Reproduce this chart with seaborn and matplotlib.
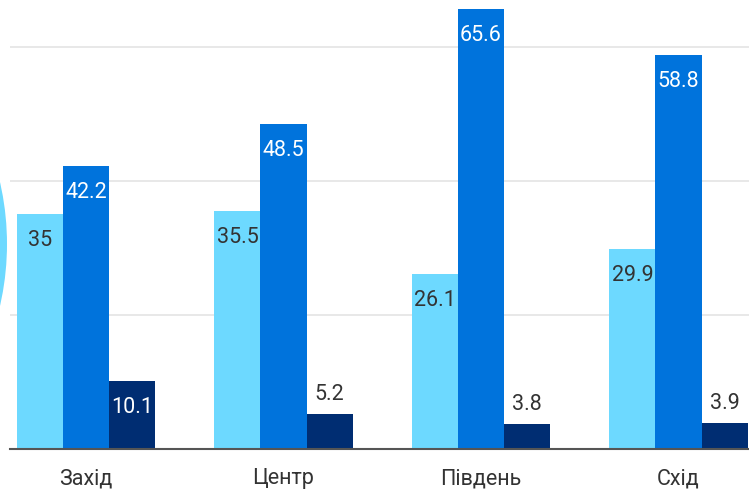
import pandas as pd
import matplotlib.pyplot as plt
from matplotlib.patches import Circle
import seaborn as sns

# ── data ────────────────────────────────────────────────────────────────
regions = ["Захід", "Центр", "Південь", "Схід"]
series = ["s1", "s2", "s3"]
vals_s1 = [35, 35.5, 26.1, 29.9]
vals_s2 = [42.2, 48.5, 65.6, 58.8]
vals_s3 = [10.1, 5.2, 3.8, 3.9]

colors = ["#6dd9ff", "#0073dc", "#002d72"]
text_colors = ["#333333", "#ffffff", "#ffffff"]

df = pd.DataFrame({
    "region": regions * 3,
    "series": [s for s in series for _ in regions],
    "value": vals_s1 + vals_s2 + vals_s3,
})


def main():
    sns.set_style("white")
    plt.rcParams["font.family"] = ["Roboto", "DejaVu Sans"]

    fig = plt.figure(figsize=(7.49, 4.92), dpi=100)
    ax = fig.add_axes([10 / 749, 43 / 492, 1 - 10 / 749, 1 - 43 / 492])

    sns.barplot(
        data=df, x="region", y="value", hue="series",
        palette=colors, width=0.7, gap=0, errorbar=None,
        saturation=1, legend=False, linewidth=0, ax=ax,
    )

    # ── labels on bars ───────────────────────────────────────────────────
    for i, cont in enumerate(ax.containers):
        for patch in cont.patches:
            h = patch.get_height()
            x = patch.get_x() + patch.get_width() / 2
            if h > 8:
                ax.annotate(f"{h:g}", (x, h), xytext=(0, -19),
                            textcoords="offset points", ha="center",
                            va="center", fontsize=15.5, color=text_colors[i])
            else:
                ax.annotate(f"{h:g}", (x, h), xytext=(0, 14),
                            textcoords="offset points", ha="center",
                            va="center", fontsize=15.5, color="#333333")

    # ── axes styling ─────────────────────────────────────────────────────
    ax.set_xlim(-0.385, 3.357)
    ax.set_ylim(0, 67.0)
    ax.set_yticks([20, 40, 60])
    ax.set_yticklabels([])
    ax.tick_params(axis="y", length=0)
    ax.tick_params(axis="x", length=0, pad=14, labelsize=15.5, labelcolor="#333333")
    ax.yaxis.grid(True, color="#e6e6e6", linewidth=1.3)
    ax.set_axisbelow(True)
    ax.set_xlabel("")
    ax.set_ylabel("")
    for side in ["left", "right", "top"]:
        ax.spines[side].set_visible(False)
    ax.spines["bottom"].set_color("#555555")
    ax.spines["bottom"].set_linewidth(1.5)

    # decorative arc on the left edge
    fig.add_artist(Circle((-2.70, (492 - 244) / 100), 2.77,
                          transform=fig.dpi_scale_trans,
                          color="#6dd9ff", lw=0))

    fig.savefig("out.png", dpi=100)


if __name__ == "__main__":
    main()
